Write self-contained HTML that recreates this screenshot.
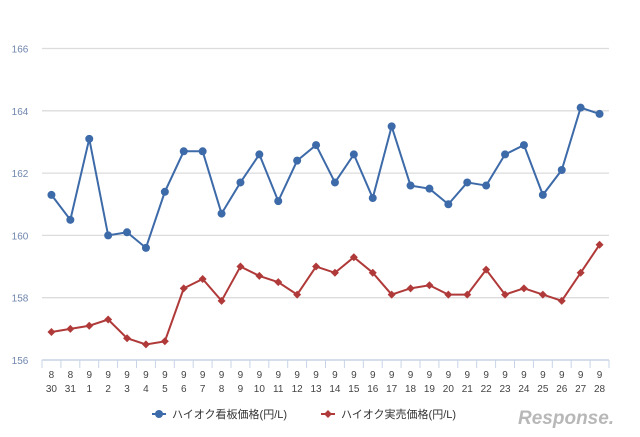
<!DOCTYPE html>
<html><head><meta charset="utf-8"><style>
body{margin:0;background:#fff;width:640px;height:437px;overflow:hidden}
svg{display:block;font-family:"Liberation Sans","Noto Sans CJK JP",sans-serif}
</style></head><body>
<svg id="c" width="640" height="437" viewBox="0 0 640 437"></svg>
<script>
const months=[8,8,9,9,9,9,9,9,9,9,9,9,9,9,9,9,9,9,9,9,9,9,9,9,9,9,9,9,9,9];
const days=[30,31,1,2,3,4,5,6,7,8,9,10,11,12,13,14,15,16,17,18,19,20,21,22,23,24,25,26,27,28];
const signPrice=[161.3,160.5,163.1,160.0,160.1,159.6,161.4,162.7,162.7,160.7,161.7,162.6,161.1,162.4,162.9,161.7,162.6,161.2,163.5,161.6,161.5,161.0,161.7,161.6,162.6,162.9,161.3,162.1,164.1,163.9];
const realPrice=[156.9,157.0,157.1,157.3,156.7,156.5,156.6,158.3,158.6,157.9,159.0,158.7,158.5,158.1,159.0,158.8,159.3,158.8,158.1,158.3,158.4,158.1,158.1,158.9,158.1,158.3,158.1,157.9,158.8,159.7];
const yTicks=[156,158,160,162,164,166];
const NS="http://www.w3.org/2000/svg";
const svg=document.getElementById('c');
const x0=42,x1=609,yB=360,yT=48.5,vMin=156,vMax=166;
const bw=(x1-x0)/days.length;
const X=i=>x0+bw*(i+0.5);
const Y=v=>yB-(v-vMin)/(vMax-vMin)*(yB-yT);
function el(t,a,p){const e=document.createElementNS(NS,t);for(const k in a)e.setAttribute(k,a[k]);(p||svg).appendChild(e);return e;}
yTicks.forEach(v=>{
  if(v>vMin){const g=el('line',{x1:x0,x2:x1,y1:Y(v),y2:Y(v),stroke:'#dcdcdc','stroke-width':1.3});
  
  }
  const t=el('text',{x:20,y:Y(v)+4,'font-size':10,fill:'#6f86ad','text-anchor':'middle'});
  t.textContent=v;
  
  
});
const ax=el('line',{x1:x0,x2:x1,y1:yB,y2:yB,stroke:'#c8d4e6','stroke-width':1.5});


for(let i=0;i<=days.length;i++){
  const tk=el('line',{x1:x0+bw*i,x2:x0+bw*i,y1:yB,y2:yB+8,stroke:'#c8d4e6','stroke-width':1});
  
  
}
days.forEach((d,i)=>{
  const t=el('text',{x:X(i),y:378,'font-size':10,fill:'#444','text-anchor':'middle'});
  t.textContent=months[i];
  
  
  const t2=el('text',{x:X(i),y:392,'font-size':10,fill:'#444','text-anchor':'middle'});
  t2.textContent=d;
  
  
});
function series(vals,color,name,marker){
  const p=el('polyline',{points:vals.map((v,i)=>X(i)+','+Y(v)).join(' '),fill:'none',stroke:color,'stroke-width':2});
  
  
  vals.forEach((v,i)=>{
    let m;
    if(marker==='c')m=el('circle',{cx:X(i),cy:Y(v),r:4,fill:color});
    else{const cx=X(i),cy=Y(v);m=el('polygon',{points:`${cx},${cy-4} ${cx+4},${cy} ${cx},${cy+4} ${cx-4},${cy}`,fill:color});}
    
    
  });
}
series(signPrice,'#3d6aa8','sign-price','c');
series(realPrice,'#b03a3a','real-price','d');
// legend
const lg=el('g',{});


el('line',{x1:152,x2:166,y1:414,y2:414,stroke:'#3d6aa8','stroke-width':2},lg);
el('circle',{cx:159,cy:414,r:4,fill:'#3d6aa8'},lg);
const l1=el('text',{x:172,y:418,'font-size':11,fill:'#333'},lg);l1.textContent='ハイオク看板価格(円/L)';


el('line',{x1:321,x2:335,y1:414,y2:414,stroke:'#b03a3a','stroke-width':2},lg);
el('polygon',{points:'328,410 332,414 328,418 324,414',fill:'#b03a3a'},lg);
const l2=el('text',{x:341,y:418,'font-size':11,fill:'#333'},lg);l2.textContent='ハイオク実売価格(円/L)';


const lo=el('text',{x:518,y:424,'font-size':19,fill:'#b8b8b8','font-style':'italic','font-weight':'bold'});
lo.textContent='Response.';


</script>
</body></html>
